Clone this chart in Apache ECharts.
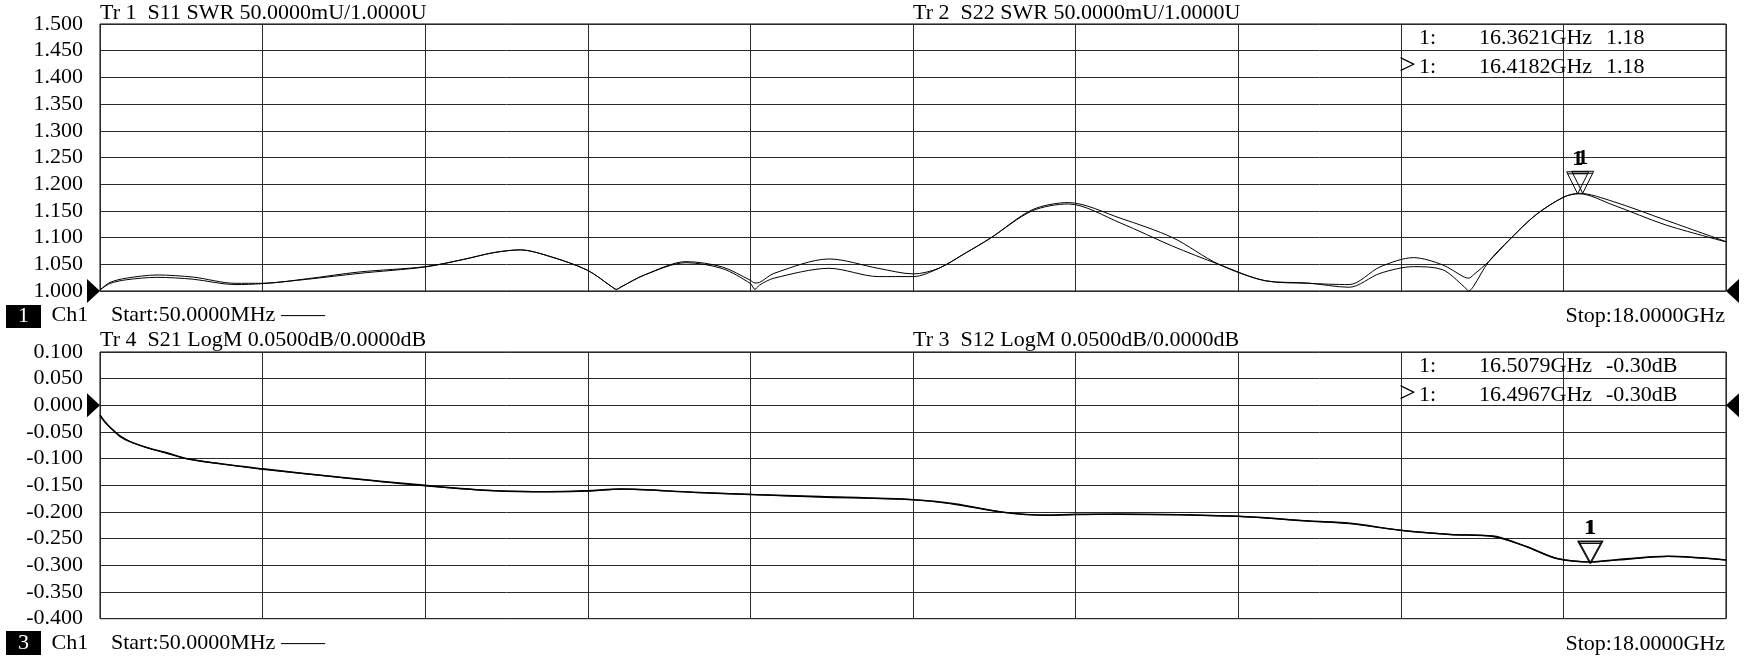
<!DOCTYPE html>
<html><head><meta charset="utf-8">
<script src="https://cdn.jsdelivr.net/npm/echarts@6/dist/echarts.min.js"></script>
<style>html,body{margin:0;padding:0;background:#fff}#c{width:1746px;height:666px}</style>
</head><body><div id="c"></div>
<script>
// ---------- data (GHz / SWR / dB) ----------
const freqRange = [0.05, 18];
const topRange = [1.0, 1.5];
const botRange = [-0.4, 0.1];
const yStep = 0.05;

const freqTop = [0.05, 0.16, 0.34, 0.68, 1.08, 1.54, 1.84, 2.34, 2.91, 3.64, 4.06, 4.40, 4.69, 5.03, 5.43, 5.70, 5.75, 5.80, 6.06, 6.52, 6.92, 7.23, 7.28, 7.33, 7.49, 8.10, 8.64, 9.03, 9.31, 9.60, 9.88, 10.34, 10.74, 11.32, 11.89, 12.40, 12.92, 13.38, 13.84, 14.18, 14.55, 14.87, 15.11, 15.16, 15.21, 15.38, 15.61, 15.90, 16.21, 16.38, 16.755, 17.33, 18.0];
const s11 = [1.002, 1.016, 1.024, 1.030, 1.026, 1.0144, 1.0144, 1.023, 1.0356, 1.0456, 1.059, 1.072, 1.077, 1.064, 1.039, 1.008, 1.003, 1.0074, 1.030, 1.055, 1.045, 1.020, 1.015, 1.016, 1.033, 1.060, 1.0425, 1.032, 1.0425, 1.0706, 1.099, 1.152, 1.1656, 1.136, 1.100, 1.050, 1.019, 1.0144, 1.012, 1.045, 1.0625, 1.049, 1.026, 1.024, 1.030, 1.055, 1.096, 1.1425, 1.176, 1.183, 1.1675, 1.133, 1.0925];
const s22 = [1.002, 1.014, 1.021, 1.0256, 1.022, 1.012, 1.0138, 1.022, 1.033, 1.045, 1.059, 1.072, 1.077, 1.064, 1.039, 1.008, 1.003, 1.0074, 1.030, 1.053, 1.042, 1.014, 1.003, 1.011, 1.024, 1.0425, 1.027, 1.027, 1.0425, 1.0706, 1.099, 1.150, 1.163, 1.127, 1.084, 1.050, 1.019, 1.015, 1.007, 1.033, 1.0456, 1.040, 1.008, 1.000, 1.008, 1.055, 1.096, 1.1425, 1.176, 1.182, 1.161, 1.124, 1.092];

const freqBot = [0.05, 0.10, 0.16, 0.27, 0.41, 0.60, 0.79, 1.01, 1.40, 1.85, 2.70, 3.64, 4.40, 5.00, 5.43, 5.80, 6.60, 7.23, 8.00, 9.03, 9.50, 10.00, 10.50, 10.82, 11.30, 12.62, 13.40, 13.85, 14.40, 14.95, 15.43, 15.80, 16.13, 16.51, 16.81, 17.36, 18.00];
const s21 = [-0.018, -0.030, -0.041, -0.058, -0.070, -0.081, -0.089, -0.100, -0.110, -0.119, -0.135, -0.150, -0.160, -0.162, -0.160, -0.157, -0.163, -0.167, -0.171, -0.177, -0.185, -0.200, -0.206, -0.204, -0.204, -0.208, -0.217, -0.221, -0.234, -0.242, -0.245, -0.265, -0.287, -0.2935, -0.289, -0.283, -0.290];
const s12 = [-0.019, -0.031, -0.041, -0.057, -0.070, -0.081, -0.090, -0.100, -0.110, -0.120, -0.135, -0.151, -0.160, -0.162, -0.161, -0.157, -0.163, -0.167, -0.172, -0.177, -0.186, -0.200, -0.206, -0.205, -0.204, -0.208, -0.217, -0.222, -0.234, -0.242, -0.246, -0.265, -0.287, -0.2935, -0.290, -0.283, -0.290];

const mkTopFreq = [16.3621, 16.4182];
const mkTopVal = [1.182, 1.183];
const mkBotFreq = [16.5079, 16.4967];
const mkBotVal = [-0.296, -0.296];

const titles = ['Tr 1  S11 SWR 50.0000mU/1.0000U', 'Tr 2  S22 SWR 50.0000mU/1.0000U', 'Tr 4  S21 LogM 0.0500dB/0.0000dB', 'Tr 3  S12 LogM 0.0500dB/0.0000dB'];
const footers = ['Ch1', 'Start:50.0000MHz ——', 'Stop:18.0000GHz'];

// ---------- chart ----------
const FONT = '"Liberation Serif", "Times New Roman", serif';
const FS = 22;
const GRIDC = '#2a2a2a';
const chart = echarts.init(document.getElementById('c'), null, {renderer: 'canvas'});

const grids = [
  {left: 100, top: 24, width: 1626, height: 267},
  {left: 100, top: 352, width: 1626, height: 266.7}
];
function gridAxis(i) {
  return {gridIndex: i, type: 'value', min: 0, max: 10, interval: 1,
    axisLine: {show: false}, axisTick: {show: false}, axisLabel: {show: false},
    splitLine: {show: true, lineStyle: {color: GRIDC, width: 1}}};
}
function dataAxis(i) {
  return {gridIndex: i, type: 'value', min: freqRange[0], max: freqRange[1], show: false, splitLine: {show: false}};
}
function yAx(i, r) {
  return {gridIndex: i, type: 'value', min: r[0], max: r[1], interval: yStep,
    axisLine: {show: false}, axisTick: {show: false},
    splitLine: {show: true, lineStyle: {color: GRIDC, width: 1}},
    axisLabel: {margin: 17, color: '#000', fontFamily: FONT, fontSize: FS, padding: [3, 0, 0, 0],
      formatter: v => (Math.abs(v) < 1e-9 ? 0 : v).toFixed(3)}};
}
const triPath = 'path://M0,0L22,0L11,22Z M1,2L21,2';
function marker(f, v, w) {
  return {
    symbol: triPath, symbolSize: [w, 22], symbolOffset: [0, -11],
    itemStyle: {color: 'rgba(0,0,0,0)', borderColor: '#000', borderWidth: 1},
    label: {show: true, position: 'top', distance: 1, formatter: '1', color: '#000',
      fontFamily: FONT, fontSize: FS, fontWeight: 'bold'},
    data: [{coord: [f, v]}]
  };
}
function line(name, xi, yi, fx, vals, w, mk) {
  return {name, type: 'line', xAxisIndex: xi, yAxisIndex: yi,
    data: fx.map((f, i) => [f, vals[i]]), showSymbol: false, smooth: 0.3,
    lineStyle: {color: '#000', width: w}, markPoint: mk, z: 3};
}

chart.setOption({
  animation: false,
  backgroundColor: '#fff',
  grid: grids.map(g => Object.assign({show: true, borderColor: '#000', borderWidth: 1, backgroundColor: 'transparent'}, g)),
  xAxis: [gridAxis(0), dataAxis(0), gridAxis(1), dataAxis(1)],
  yAxis: [yAx(0, topRange), yAx(1, botRange)],
  series: [
    line('S11', 1, 0, freqTop, s11, 1, marker(mkTopFreq[0], mkTopVal[0], 22)),
    line('S22', 1, 0, freqTop, s22, 1, marker(mkTopFreq[1], mkTopVal[1], 22)),
    line('S21', 3, 1, freqBot, s21, 1.5, marker(mkBotFreq[0], mkBotVal[0], 24)),
    line('S12', 3, 1, freqBot, s12, 1.2, marker(mkBotFreq[1], mkBotVal[1], 24))
  ]
});

// ---------- annotations ----------
function txt(s, x, y, align, color, size) {
  return {type: 'text', x, y, z: 10, style: {text: s, fill: color || '#000', font: (size || FS) + 'px ' + FONT,
    align: align || 'left', verticalAlign: 'middle'}};
}
const G = [];
const xL = chart.convertToPixel({xAxisIndex: 1}, freqRange[0]);
const xR = chart.convertToPixel({xAxisIndex: 1}, freqRange[1]);
const yRefTop = chart.convertToPixel({yAxisIndex: 0}, 1.0);
const yRefBot = chart.convertToPixel({yAxisIndex: 1}, 0.0);
[yRefTop, yRefBot].forEach(y => {
  G.push({type: 'polygon', z: 10, shape: {points: [[xL - 13, y - 12], [xL, y], [xL - 13, y + 12]]}, style: {fill: '#000'}});
  G.push({type: 'polygon', z: 10, shape: {points: [[xR + 13, y - 12], [xR, y], [xR + 13, y + 12]]}, style: {fill: '#000'}});
});
G.push(txt(titles[0], 100, 13));
G.push(txt(titles[1], 913, 13));
G.push(txt(titles[2], 100, 340.5));
G.push(txt(titles[3], 913, 340.5));
// marker readouts
const rowsTop = [38.3, 67.2], rowsBot = [366, 395];
[[mkTopFreq, mkTopVal, rowsTop, ''], [mkBotFreq, mkBotVal, rowsBot, 'dB']].forEach(([fs, vs, rows, unit]) => {
  fs.forEach((f, i) => {
    if (i === 1) G.push(txt('>', 1399, rows[i] - 1, 'left', '#000', 30));
    G.push(txt('1:', 1419, rows[i]));
    G.push(txt(f.toFixed(4) + 'GHz', 1479, rows[i]));
    G.push(txt(vs[i].toFixed(2) + unit, 1606, rows[i]));
  });
});
// footers
[[305, 23, '1', 315], [631, 24, '3', 643.5]].forEach(([by, bh, lab, ty]) => {
  G.push({type: 'rect', z: 10, shape: {x: 6, y: by, width: 35, height: bh}, style: {fill: '#000'}});
  G.push(txt(lab, 23.5, by + bh / 2, 'center', '#fff'));
  G.push(txt(footers[0], 51.5, ty));
  G.push(txt(footers[1], 111, ty));
  G.push(txt(footers[2], 1725, ty + 1, 'right'));
});
chart.setOption({graphic: G});
</script></body></html>
